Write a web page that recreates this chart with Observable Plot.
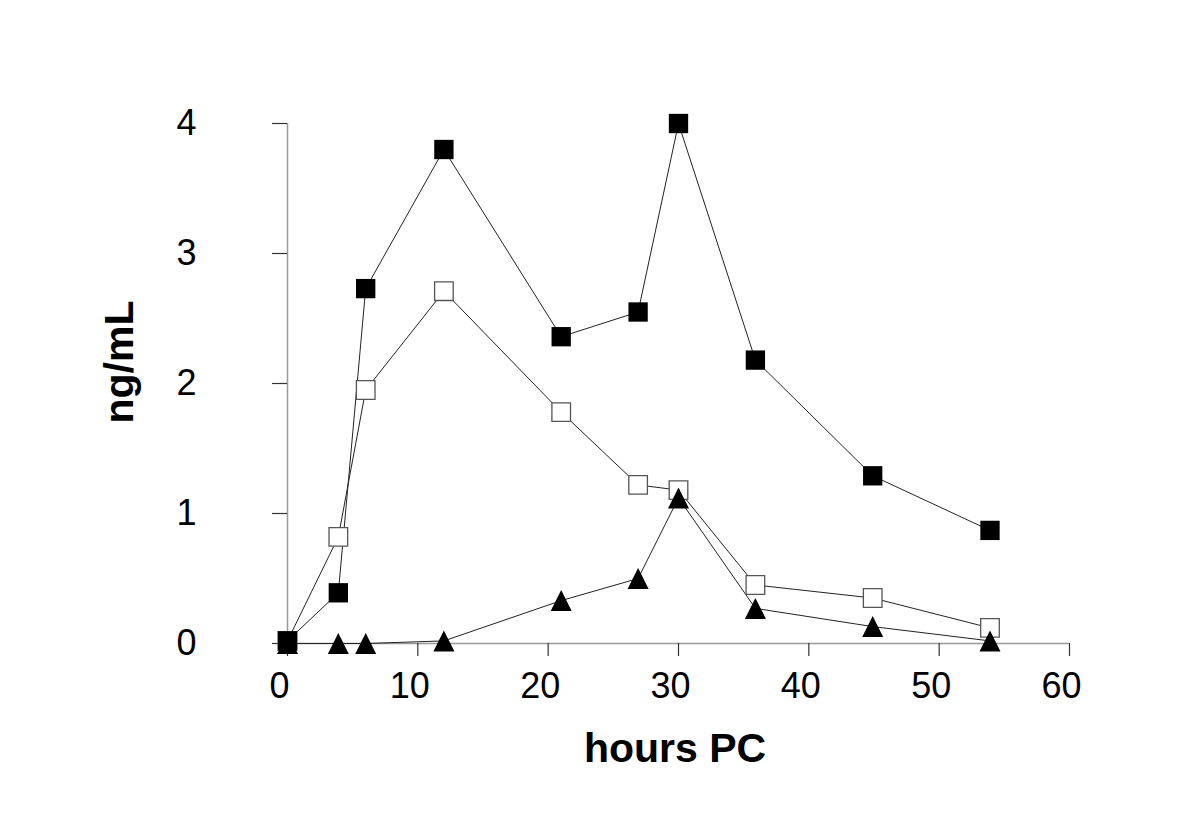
<!DOCTYPE html>
<html>
<head>
<meta charset="utf-8">
<script src="https://cdn.jsdelivr.net/npm/d3@7"></script>
<script src="https://cdn.jsdelivr.net/npm/@observablehq/plot@0.6"></script>
<style>
  html, body { margin: 0; padding: 0; background: #fff; }
  #chart { width: 1200px; height: 813px; }
</style>
</head>
<body>
<div id="chart"></div>
<script>
const hours = [0, 3.9, 6, 12, 21, 26.9, 30, 35.9, 44.9, 53.9];
const filledSquares = [0.02, 0.39, 2.73, 3.80, 2.36, 2.55, 4.00, 2.18, 1.29, 0.87];
const openSquares = [0.02, 0.82, 1.95, 2.71, 1.78, 1.22, 1.18, 0.45, 0.35, 0.12];
const triangles = [0.0, 0.0, 0.0, 0.02, 0.33, 0.50, 1.12, 0.27, 0.13, 0.02];
const xTicks = [0, 10, 20, 30, 40, 50, 60];
const yTicks = [0, 1, 2, 3, 4];
const xLabel = "hours PC";
const yLabel = "ng/mL";

const toRows = vals => hours.map((h, i) => ({x: h, y: vals[i]}));
const rowsFilled = toRows(filledSquares);
const rowsOpen = toRows(openSquares);
const rowsTri = toRows(triangles);

const font = "'Liberation Sans', Arial, Helvetica, sans-serif";

// triangle centred on its bounding box, as wide as it is tall
const boxTriangle = {
  draw(context, size) {
    const k = Math.sqrt(size) * 0.525;
    context.moveTo(0, -k);
    context.lineTo(k, k);
    context.lineTo(-k, k);
    context.closePath();
  }
};

const chart = Plot.plot({
  width: 1200,
  height: 813,
  marginLeft: 287,
  marginRight: 131,
  marginTop: 123,
  marginBottom: 170,
  style: {fontFamily: font, background: "#fff", color: "#000"},
  x: {domain: [0, 60], ticks: xTicks, label: null},
  y: {domain: [0, 4], ticks: yTicks, label: null},
  marks: [
    Plot.ruleX([0], {stroke: "#999", strokeWidth: 1.5}),
    Plot.ruleY([0], {stroke: "#999", strokeWidth: 1.5}),
    // x tick marks only
    Plot.axisX({ticks: xTicks, tickSize: 13, fill: "none", stroke: "#333", strokeWidth: 1.2, label: null}),
    // x tick labels only, nudged left as in the reference
    Plot.axisX({ticks: xTicks, tickSize: 0, tickPadding: 29, stroke: "none", dx: -8, fontSize: 36, label: null, tickFormat: d => String(d)}),
    Plot.axisY({ticks: yTicks, tickSize: 15, tickPadding: 76, fontSize: 36, stroke: "#333", strokeWidth: 1.2, label: null, tickFormat: d => String(d)}),
    Plot.line(rowsOpen, {x: "x", y: "y", stroke: "#222", strokeWidth: 1}),
    Plot.line(rowsTri, {x: "x", y: "y", stroke: "#222", strokeWidth: 1}),
    Plot.line(rowsFilled, {x: "x", y: "y", stroke: "#222", strokeWidth: 1}),
    Plot.dot(rowsOpen, {x: "x", y: "y", symbol: "square", r: 10.5, fill: "#fff", stroke: "#555", strokeWidth: 1.3}),
    Plot.dot(rowsTri, {x: "x", y: "y", symbol: boxTriangle, r: 11.3, fill: "#000", stroke: "none"}),
    Plot.dot(rowsFilled, {x: "x", y: "y", symbol: "square", r: 10.9, fill: "#000", stroke: "none"})
  ]
});

const svg = d3.select(chart);
svg.append("text")
  .attr("x", 675).attr("y", 762)
  .attr("text-anchor", "middle")
  .attr("font-family", font)
  .attr("font-weight", "bold")
  .attr("font-size", 41)
  .attr("fill", "#000")
  .text(xLabel);
svg.append("text")
  .attr("transform", "translate(133,362) rotate(-90)")
  .attr("text-anchor", "middle")
  .attr("font-family", font)
  .attr("font-weight", "bold")
  .attr("font-size", 41)
  .attr("fill", "#000")
  .text(yLabel);

document.getElementById("chart").appendChild(chart);
</script>
</body>
</html>
